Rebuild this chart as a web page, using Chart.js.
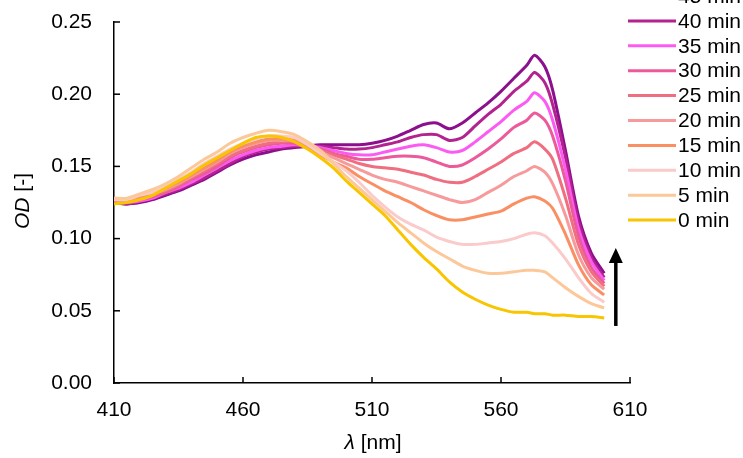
<!DOCTYPE html>
<html>
<head>
<meta charset="utf-8">
<script src="https://cdn.jsdelivr.net/npm/chart.js@4.4.0/dist/chart.umd.min.js"></script>
<style>
  html, body { margin: 0; padding: 0; background: #fff; }
  #wrap { width: 743px; height: 458px; }
</style>
</head>
<body>
<div id="wrap"><canvas id="odChart"></canvas></div>
<script>
// Wavelengths (nm)
const wavelengths = [410,415,420,425,430,435,440,445,450,455,460,465,470,475,480,
  485,490,495,500,505,510,515,520,525,530,535,540,545,550,555,560,565,570,573,577,580,585,590,595,600];

// OD spectra per time point
const od0 = [.124,.125,.127,.130,.135,.140,.145,.151,.156,.161,.166,.170,.171,.170,.167,
  .162,.156,.149,.140,.132,.124,.116,.106,.096,.087,.079,.070,.063,.058,.054,.051,.049,.049,.048,.048,.047,.047,.046,.046,.045];
const od5 = [.128,.128,.131,.134,.138,.143,.149,.155,.160,.166,.170,.173,.175,.174,.172,
  .167,.161,.152,.143,.135,.127,.119,.111,.104,.097,.091,.086,.081,.078,.076,.076,.077,.078,.078,.077,.073,.066,.060,.055,.052];
const od10 = [.127,.127,.130,.132,.136,.141,.146,.152,.157,.162,.166,.169,.171,.171,.170,
  .165,.159,.153,.147,.139,.130,.122,.115,.110,.106,.101,.098,.096,.096,.097,.098,.100,.103,.104,.102,.097,.086,.073,.062,.056];
const od15 = [.127,.126,.129,.131,.135,.139,.144,.149,.154,.160,.164,.167,.169,.169,.168,
  .163,.158,.153,.149,.143,.138,.133,.129,.125,.120,.116,.113,.113,.115,.117,.119,.124,.128,.129,.126,.121,.103,.082,.068,.061];
const od20 = [.127,.126,.128,.131,.134,.138,.143,.148,.153,.159,.163,.166,.168,.168,.168,
  .163,.160,.156,.152,.148,.144,.141,.139,.136,.133,.130,.127,.125,.127,.132,.137,.143,.147,.150,.146,.138,.116,.089,.073,.065];
const od25 = [.126,.126,.127,.130,.133,.137,.142,.147,.152,.157,.161,.164,.166,.167,.167,
  .163,.161,.158,.155,.152,.150,.149,.148,.146,.144,.141,.139,.139,.143,.148,.153,.159,.163,.167,.162,.155,.128,.096,.077,.067];
const od30 = [.126,.125,.127,.129,.132,.136,.141,.145,.150,.156,.160,.163,.165,.166,.166,
  .163,.162,.159,.157,.155,.155,.156,.157,.157,.156,.153,.150,.151,.156,.162,.169,.177,.182,.187,.182,.171,.140,.102,.080,.069];
const od35 = [.126,.125,.126,.128,.132,.135,.139,.144,.149,.154,.158,.161,.163,.164,.165,
  .164,.163,.161,.159,.158,.158,.160,.162,.164,.165,.163,.160,.161,.167,.174,.181,.189,.195,.201,.195,.182,.148,.107,.084,.071];
const od40 = [.125,.124,.126,.128,.131,.134,.138,.142,.147,.152,.157,.160,.162,.163,.164,
  .164,.164,.163,.162,.162,.163,.165,.167,.170,.172,.172,.168,.170,.178,.186,.193,.202,.209,.215,.208,.193,.156,.112,.087,.073];
const od45 = [.125,.124,.125,.127,.130,.133,.137,.141,.146,.151,.155,.158,.160,.162,.163,
  .164,.165,.165,.165,.165,.166,.168,.171,.175,.179,.180,.176,.180,.187,.194,.202,.211,.220,.227,.219,.203,.161,.116,.090,.076];

const seriesLabels = ['0 min','5 min','10 min','15 min','20 min','25 min','30 min','35 min','40 min','45 min'];
const seriesValues = [od0, od5, od10, od15, od20, od25, od30, od35, od40, od45];
const seriesColors = ['#f8c500','#fcc89a','#fbcaca','#f98f62','#f79a9c','#ef6f80','#ec5a9c','#fb5bf2','#b3238f','#8c0f8e'];

// Axis ticks
const xTicks = [410, 460, 510, 560, 610];
const yTicks = [0, 0.05, 0.10, 0.15, 0.20, 0.25];

// Arrow annotation (data units)
const arrowX = 604.5, arrowFrom = 0.0395, arrowTo = 0.0935;

const FONT = '"Liberation Sans", Arial, sans-serif';
const FS = 21;

const datasets = seriesLabels.map((lab, i) => ({
  label: lab,
  data: wavelengths.map((w, j) => ({ x: w, y: seriesValues[i][j] })),
  borderColor: seriesColors[i],
  backgroundColor: seriesColors[i],
  borderWidth: 3,
  pointRadius: 0,
  tension: 0.25,
  fill: false
}));

function drawMixed(ctx, parts, cx, cy) {
  let total = 0;
  parts.forEach(p => { ctx.font = p.font; p.w = ctx.measureText(p.t).width; total += p.w; });
  let x = cx - total / 2;
  ctx.textAlign = 'left';
  ctx.textBaseline = 'middle';
  parts.forEach(p => { ctx.font = p.font; ctx.fillText(p.t, x, cy); x += p.w; });
}

const overlay = {
  id: 'overlay',
  afterDraw(chart) {
    const { ctx, scales: { x, y } } = chart;
    ctx.save();
    ctx.strokeStyle = '#000';
    ctx.fillStyle = '#000';
    ctx.lineWidth = 1.5;
    // inward tick marks
    xTicks.forEach(v => {
      const px = x.getPixelForValue(v);
      ctx.beginPath(); ctx.moveTo(px, y.bottom); ctx.lineTo(px, y.bottom - 6); ctx.stroke();
    });
    yTicks.forEach(v => {
      const py = y.getPixelForValue(v);
      ctx.beginPath(); ctx.moveTo(x.left, py); ctx.lineTo(x.left + 6, py); ctx.stroke();
    });

    // arrow
    const ax = x.getPixelForValue(arrowX);
    const ay0 = y.getPixelForValue(arrowFrom);
    const ay1 = y.getPixelForValue(arrowTo);
    ctx.lineWidth = 3.5;
    ctx.beginPath(); ctx.moveTo(ax, ay0); ctx.lineTo(ax, ay1 + 12); ctx.stroke();
    ctx.beginPath();
    ctx.moveTo(ax, ay1); ctx.lineTo(ax - 7, ay1 + 15); ctx.lineTo(ax + 7, ay1 + 15);
    ctx.closePath(); ctx.fill();

    // axis titles
    drawMixed(ctx, [{ t: 'λ', font: `italic ${FS}px ` + FONT }, { t: ' [nm]', font: `${FS}px ` + FONT }],
      (x.left + x.right) / 2 + 1, 443);
    ctx.save();
    ctx.translate(23, 201);
    ctx.rotate(-Math.PI / 2);
    drawMixed(ctx, [{ t: 'OD', font: `italic ${FS}px ` + FONT }, { t: ' [-]', font: `${FS}px ` + FONT }], 0, 0);
    ctx.restore();

    // legend (latest time on top)
    const ds = chart.data.datasets;
    ctx.font = `${FS}px ` + FONT;
    ctx.textAlign = 'left';
    ctx.textBaseline = 'middle';
    for (let k = 0; k < ds.length; k++) {
      const d = ds[ds.length - 1 - k];
      const ly = -4 + k * 24.9;
      ctx.strokeStyle = d.borderColor;
      ctx.lineWidth = 3;
      ctx.beginPath(); ctx.moveTo(628, ly); ctx.lineTo(676, ly); ctx.stroke();
      ctx.fillStyle = '#000';
      ctx.fillText(d.label, 678, ly + 1);
    }
    ctx.restore();
  }
};

new Chart(document.getElementById('odChart'), {
  type: 'line',
  data: { datasets },
  options: {
    responsive: true,
    maintainAspectRatio: false,
    animation: false,
    layout: { padding: { top: 22, right: 113, bottom: 0, left: 0 } },
    plugins: { legend: { display: false }, tooltip: { enabled: false } },
    scales: {
      x: {
        type: 'linear',
        min: 410, max: 610,
        afterFit: s => { s.height = 75; s.paddingLeft = 0; s.paddingRight = 0; },
        afterBuildTicks: s => { s.ticks = xTicks.map(v => ({ value: v })); },
        grid: { display: false, drawTicks: false },
        border: { display: true, color: '#000', width: 1.5 },
        ticks: { color: '#000', padding: 15, font: { family: FONT, size: FS } }
      },
      y: {
        min: 0, max: 0.25,
        afterFit: s => { s.width = 114; s.paddingTop = 0; s.paddingBottom = 0; },
        afterBuildTicks: s => { s.ticks = yTicks.map(v => ({ value: v })); },
        grid: { display: false, drawTicks: false },
        border: { display: true, color: '#000', width: 1.5 },
        ticks: { color: '#000', padding: 22, font: { family: FONT, size: FS },
          callback: v => v.toFixed(2) }
      }
    }
  },
  plugins: [overlay]
});
</script>
</body>
</html>
